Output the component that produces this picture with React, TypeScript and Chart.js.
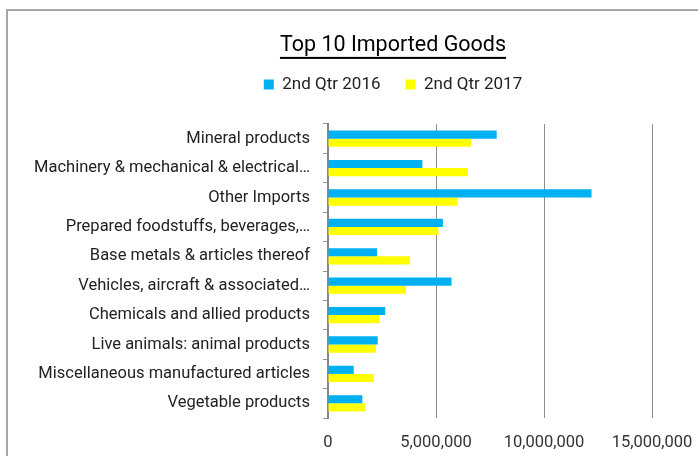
import React, { useEffect, useRef } from "react";
import { Chart, registerables } from "chart.js";

Chart.register(...registerables);

const titleText = "Top 10 Imported Goods";
const seriesLabels = ["2nd Qtr 2016", "2nd Qtr 2017"];
const categories = [
  "Mineral products",
  "Machinery & mechanical & electrical…",
  "Other Imports",
  "Prepared foodstuffs, beverages,…",
  "Base metals & articles thereof",
  "Vehicles, aircraft & associated…",
  "Chemicals and allied products",
  "Live animals: animal products",
  "Miscellaneous manufactured articles",
  "Vegetable products",
];
const series2016 = [7810000, 4370000, 12200000, 5320000, 2270000, 5720000, 2650000, 2300000, 1190000, 1590000];
const series2017 = [6620000, 6480000, 6000000, 5110000, 3800000, 3610000, 2380000, 2220000, 2130000, 1730000];
const xMin = 0;
const xMax = 15000000;
const xStep = 5000000;

const FONT = "Roboto, 'Liberation Sans', sans-serif";
const TITLE_SIZE = 21.5;
const TITLE_PAD_TOP = 33;

const frameAndUnderline = {
  id: "frameAndUnderline",
  beforeInit(chart: any) {
    const legend = chart.legend;
    if (legend) {
      const originalFit = legend.fit;
      legend.fit = function fit() {
        originalFit.bind(legend)();
        this.height += 21;
      };
    }
  },
  beforeDraw(chart: any) {
    const ctx = chart.ctx;
    ctx.save();
    ctx.strokeStyle = "#a6a6a6";
    ctx.lineWidth = 2;
    ctx.strokeRect(7, 10, chart.width + 50, chart.height + 50);
    ctx.restore();
  },
  afterDraw(chart: any) {
    const t = chart.titleBlock;
    if (!t) return;
    const ctx = chart.ctx;
    ctx.save();
    ctx.font = `normal ${TITLE_SIZE}px ${FONT}`;
    const w = ctx.measureText(titleText).width;
    const cx = (t.left + t.right) / 2;
    const y = t.top + TITLE_PAD_TOP + (TITLE_SIZE * 1.2) / 2 + 11;
    ctx.fillStyle = "#000";
    ctx.fillRect(cx - w / 2, y, w, 2);
    ctx.restore();
  },
};

export default function App() {
  const ref = useRef<HTMLCanvasElement | null>(null);

  useEffect(() => {
    if (!ref.current) return;
    const chart = new Chart(ref.current, {
      type: "bar",
      data: {
        labels: categories,
        datasets: [
          {
            label: seriesLabels[0],
            data: series2016,
            backgroundColor: "#00B0F0",
            borderWidth: 0,
            xAxisID: "x",
            yAxisID: "y",
            categoryPercentage: 0.555,
            barPercentage: 1,
          },
          {
            label: seriesLabels[1],
            data: series2017,
            backgroundColor: "#FFFF00",
            borderWidth: 0,
            xAxisID: "x",
            yAxisID: "y",
            categoryPercentage: 0.555,
            barPercentage: 1,
          },
        ],
      },
      options: {
        indexAxis: "y",
        responsive: false,
        animation: false,
        layout: { padding: 0 },
        plugins: {
          title: {
            display: true,
            text: titleText,
            color: "#000",
            font: { family: FONT, size: TITLE_SIZE, weight: "normal", lineHeight: 1.2 },
            padding: { top: TITLE_PAD_TOP, bottom: -7.8 },
          },
          legend: {
            display: true,
            position: "top",
            labels: {
              boxWidth: 10,
              boxHeight: 10,
              padding: 25,
              color: "#222",
              font: { family: FONT, size: 17 },
            },
          },
          tooltip: { enabled: false },
        },
        scales: {
          x: {
            type: "linear",
            min: xMin,
            max: xMax,
            ticks: {
              stepSize: xStep,
              padding: 15,
              color: "#333",
              maxRotation: 0,
              font: { family: FONT, size: 16.5 },
              callback: (v: any) => Number(v).toLocaleString("en-US"),
            },
            grid: { color: "#8c8c8c", lineWidth: 1, drawTicks: false },
            border: { display: false },
            afterFit: (s: any) => {
              s.height = 38;
            },
          },
          y: {
            type: "category",
            grid: { offset: true, drawOnChartArea: false, drawTicks: true, tickLength: 5, color: "#999" },
            border: { display: true, color: "#868686", width: 2 },
            ticks: { padding: 13, color: "#222", autoSkip: false, font: { family: FONT, size: 16.5 } },
            afterFit: (s: any) => {
              s.width = 328;
            },
          },
          yPad: {
            type: "linear",
            axis: "y",
            position: "right",
            display: true,
            ticks: { display: false },
            grid: { display: false },
            border: { display: false },
            afterFit: (s: any) => {
              s.width = 134;
            },
          },
        },
      } as any,
      plugins: [frameAndUnderline],
    });
    return () => chart.destroy();
  }, []);

  return (
    <div style={{ position: "absolute", left: 0, top: 0, width: 698, height: 456, overflow: "hidden", background: "#fff" }}>
      <canvas ref={ref} width={786} height={456} style={{ display: "block" }} />
    </div>
  );
}
